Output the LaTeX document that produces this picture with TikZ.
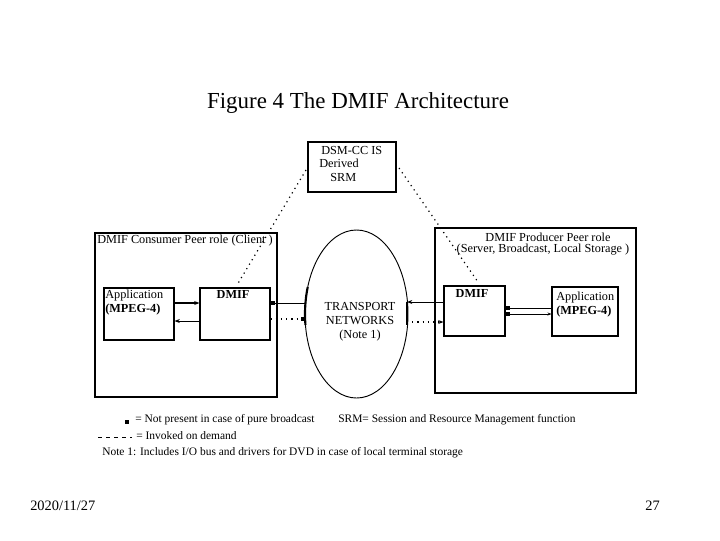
\documentclass[tikz,border=0pt]{standalone}
\usepackage{fontspec}
\setmainfont{Liberation Serif}
\usetikzlibrary{arrows.meta}
\begin{document}
\begin{tikzpicture}[x=0.75pt,y=-0.75pt,
  box/.style={draw,line width=0.8pt},
  lbl/.style={inner sep=0pt,font=\fontsize{9.2}{10.5}\selectfont},
  leg/.style={inner sep=0pt,font=\fontsize{8.6}{10}\selectfont},
  dots/.style={dash pattern=on 0.9pt off 3pt,line width=0.9pt},
  sq/.style={fill,minimum size=2.5pt,inner sep=0pt}]
\useasboundingbox (0,0) rectangle (720,540);
% title
\node[inner sep=0pt,font=\fontsize{17.2}{20}\selectfont] (title) at (358,103) {Figure 4 The DMIF Architecture};
% DSM-CC box
\draw[box] (308,142) rectangle (396,192);
\node[lbl,anchor=west] (d1) at (321,150) {DSM-CC IS};
\node[lbl,anchor=west] (d2) at (319,163) {Derived};
\node[lbl,anchor=west] (d3) at (330,177) {SRM};
\coordinate (dsmL) at (306,170);
\coordinate (dsmR) at (399,168);
% consumer box
\draw[box] (95,233) rectangle (277,397);
\node[lbl,anchor=west] (ct) at (97,241) {DMIF Consumer Peer role (Client )};
% producer box
\draw[box] (435,228) rectangle (636,393);
\node[lbl] (pt1) at (548,237) {DMIF Producer Peer role};
\node[lbl] (pt2) at (543,250) {(Server, Broadcast, Local Storage )};
% ellipse
\coordinate (ec) at (356.5,314);
\draw[line width=0.7pt] (ec) ellipse [x radius=51.5,y radius=84];
\draw[line width=1.6pt] (ec) ++(198.7:51.5 and 84) arc[start angle=198.7,end angle=172.5,x radius=51.5,y radius=84];
\draw[line width=1.6pt] (407,302) -- (407,325);
\node[lbl,align=center] (tn) at (360,322) {TRANSPORT\\NETWORKS\\(Note 1)};
\coordinate (eL1) at (306,303);
\coordinate (eL2) at (305,319);
\coordinate (eR1) at (407,302);
\coordinate (eR2) at (407,322);
% left app and dmif
\node[box,minimum width=70pt*0.75,minimum height=52pt*0.75,inner sep=0pt] (appL) at (139,314) {};
\node[lbl,anchor=north west,align=left] at (105,290) {Application\\\textbf{(MPEG-4)}};
\node[box,minimum width=70pt*0.75,minimum height=52pt*0.75,inner sep=0pt] (dmL) at (235,314) {};
\node[lbl,anchor=north] at (233,290) {\textbf{DMIF}};
\draw[line width=1.3pt,-{Stealth[length=4pt]}] (appL.east|-0,303) -- (dmL.west|-0,303);
\draw[line width=0.6pt,-{Stealth[length=4pt]}] (dmL.west|-0,321) -- (appL.east|-0,321);
\draw[line width=0.6pt,-{Square[length=3pt]}] (eL1) -- (dmL.east|-0,303);
\draw[dots,-{Square[length=3pt]}] (dmL.east|-0,319) -- (eL2);
% right dmif and app
\node[box,minimum width=61pt*0.75,minimum height=50pt*0.75,inner sep=0pt] (dmR) at (474.5,311) {};
\node[lbl,anchor=north] at (472,289) {\textbf{DMIF}};
\node[box,minimum width=66pt*0.75,minimum height=49pt*0.75,inner sep=0pt] (appR) at (585,311.5) {};
\node[lbl,anchor=north west,align=left] at (556,292) {Application\\\textbf{(MPEG-4)}};
\draw[line width=0.6pt,-{Stealth[length=4pt]}] (dmR.west|-0,302) -- (eR1);
\draw[dots,-{Stealth[length=4pt]}] (eR2) -- (dmR.west|-0,322);
\draw[line width=0.6pt,{Square[length=3pt]}-] (dmR.east|-0,308) -- (appR.west|-0,308);
\draw[line width=0.6pt,{Square[length=3pt]}-{Stealth[length=3pt]}] (dmR.east|-0,314) -- (appR.west|-0,314);
% dotted links to SRM
\coordinate (cEnd) at (237,285);
\coordinate (pEnd) at (478,282);
\draw[dots] (dsmL) -- (cEnd);
\draw[dots] (dsmR) -- (pEnd);
% legend
\node[sq] (lsq) at (127,422) {};
\node[leg,anchor=west] (l1) at (135,420) {= Not present in case of pure broadcast};
\node[leg,anchor=west] (l2) at (338,420) {SRM= Session and Resource Management function};
\coordinate (da) at (98,437);
\coordinate (db) at (132,437);
\draw[dash pattern=on 3pt off 3pt,line width=0.5pt] (da) -- (db);
\node[leg,anchor=west] (l3) at (136,436) {= Invoked on demand};
\node[leg,anchor=west] (l4) at (102,453) {Note 1: Includes I/O bus and drivers for DVD in case of local terminal storage};
% footer
\node[inner sep=0pt,anchor=west,font=\fontsize{10.8}{12}\selectfont] (date) at (30,506) {2020/11/27};
\node[inner sep=0pt,anchor=east,font=\fontsize{10.8}{12}\selectfont] (pg) at (660,506) {27};
\end{tikzpicture}
\end{document}
